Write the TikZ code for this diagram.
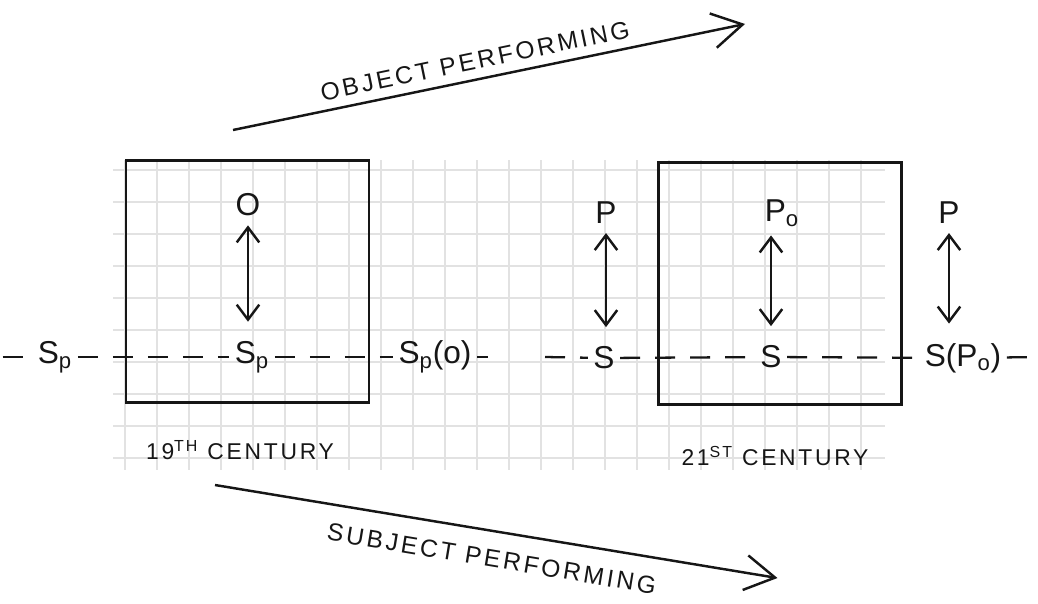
\documentclass[tikz,border=0pt]{standalone}
\usepackage{fontspec}
\setmainfont{Liberation Sans}
\newfontfamily\handfont[LetterSpace=12]{Liberation Sans}
\usepackage{tikz}
\usetikzlibrary{arrows.meta,positioning}
\definecolor{inkBlack}{RGB}{22,22,22}
\definecolor{gridGray}{RGB}{226,226,226}
\tikzset{
  era/.style={draw=inkBlack, line width=1.6pt, minimum width=4.86cm, minimum height=4.84cm, inner sep=0pt},
  term/.style={text=inkBlack, font=\fontsize{18}{20}\selectfont, inner sep=3pt},
  caption/.style={text=inkBlack, font=\handfont\fontsize{13}{15}\selectfont, inner sep=2pt},
  trend/.style={-{Straight Barb[length=6mm,width=7mm]}, line width=1.4pt, draw=inkBlack},
  link/.style={{Straight Barb[length=3mm,width=4.5mm]}-{Straight Barb[length=3mm,width=4.5mm]},
               line width=1.4pt, draw=inkBlack, shorten <=2pt, shorten >=8pt},
  dashline/.style={draw=inkBlack, line width=1.3pt, dash pattern=on 0.4cm off 0.3cm}
}

\begin{document}
\begin{tikzpicture}
\useasboundingbox (0,0) rectangle (20.76,-12.06);

% Paper grid
\foreach \k in {0,...,23}
  \draw[gridGray, line width=0.7pt] (2.5+0.64*\k,-3.2) -- (2.5+0.64*\k,-9.4);
\foreach \k in {0,...,9}
  \draw[gridGray, line width=0.7pt] (2.26,-3.4-0.64*\k) -- (17.7,-3.4-0.64*\k);

% 19th century panel
\node[era] (old) at (4.95,-5.63) {};
\node[term] (obj) at (4.96,-4.1) {O};
\node[term] (subj) at (5.04,-7.14) {S\textsubscript{p}};
\node[term] (subjL) at (1.1,-7.14) {S\textsubscript{p}};
\node[term] (subjR) at (8.7,-7.14) {S\textsubscript{p}(o)};
\coordinate (oldL) at (0.05,-7.14);
\coordinate (oldR) at (9.75,-7.14);
\draw[link] (obj) -- (subj.north -| obj);
\draw[dashline] (oldL) -- (subjL);
\draw[dashline] (subjL) -- (subj);
\draw[dashline] (subj) -- (subjR);
\draw[dashline] (subjR) -- (oldR);
\node[caption] (oldCap) at (4.8,-9.0) {19\textsuperscript{TH} CENTURY};

% 21st century panel
\node[era] (new) at (15.6,-5.67) {};
\node[term] (perfA) at (12.12,-4.26) {P};
\node[term] (selfA) at (12.08,-7.16) {S};
\node[term] (perfB) at (15.64,-4.26) {P\textsubscript{o}};
\node[term] (selfB) at (15.42,-7.14) {S};
\node[term] (perfC) at (18.98,-4.26) {P};
\node[term] (selfC) at (19.26,-7.16) {S(P\textsubscript{o})};
\coordinate (newL) at (10.9,-7.14);
\coordinate (newR) at (20.76,-7.14);
\draw[link] (perfA) -- (selfA.north -| perfA);
\draw[link] (perfB.south -| selfB) -- (selfB);
\draw[link] (perfC) -- (selfC.north -| perfC);
\draw[dashline] (newL) -- (selfA);
\draw[dashline] (selfA) -- (selfB);
\draw[dashline] (selfB) -- (selfC);
\draw[dashline] (selfC) -- (newR);
\node[caption] (newCap) at (15.5,-9.12) {21\textsuperscript{ST} CENTURY};

% Trends
\coordinate (objStart) at (4.66,-2.6);
\coordinate (objEnd) at (14.9,-0.48);
\draw[trend] (objStart) -- node[caption, sloped, above=3pt, pos=0.48, font=\handfont\fontsize{14}{16}\selectfont] (objLabel) {OBJECT PERFORMING} (objEnd);
\coordinate (subjStart) at (4.3,-9.7);
\coordinate (subjEnd) at (15.55,-11.56);
\draw[trend] (subjStart) -- node[caption, sloped, below=8pt, pos=0.5, font=\handfont\fontsize{14}{16}\selectfont] (subjLabel) {SUBJECT PERFORMING} (subjEnd);
\end{tikzpicture}
\end{document}
